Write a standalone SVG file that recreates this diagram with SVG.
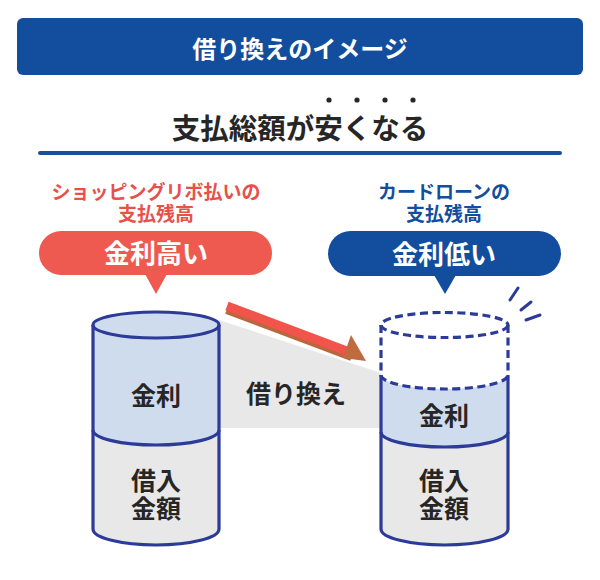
<svg xmlns="http://www.w3.org/2000/svg" width="600" height="580" viewBox="0 0 600 580">
<style>
text{font-family:"Noto Sans CJK JP","Noto Sans",sans-serif;font-weight:700;text-anchor:middle}
.dark{fill:#262626}
.cyl{fill:none;stroke:#2c3b98;stroke-width:3.2;stroke-linejoin:round}
.dash{fill:none;stroke:#2c3b98;stroke-width:3.2;stroke-dasharray:8 4.5}
.lb{fill:#cfdcee}
.gr{fill:#e8e8e8}
</style>
<rect width="600" height="580" fill="#ffffff"/>
<g id="header">
<rect x="17" y="18" width="566" height="57" rx="6" fill="#134e9e"/>
<text x="300" y="58" font-size="24" fill="#ffffff">借り換えのイメージ</text>
</g>
<g id="subtitle">
<text x="300" y="139" font-size="28.5" class="dark">支払総額が安くなる</text>
<g fill="#262626"><circle cx="329" cy="100" r="2.6"/><circle cx="357" cy="100" r="2.6"/><circle cx="385" cy="100" r="2.6"/><circle cx="413" cy="100" r="2.6"/></g>
<rect x="38" y="151" width="524" height="4" rx="2" fill="#1b4f99"/>
</g>
<g id="left-label">
<text font-size="19" fill="#e8504a"><tspan x="156" y="199">ショッピングリボ払いの</tspan><tspan x="156" y="221">支払残高</tspan></text>
<rect x="39" y="231" width="233" height="44" rx="22" fill="#ef5a50"/>
<polygon points="145,274 167,274 156,294" fill="#ef5a50"/>
<text x="156" y="263" font-size="26" fill="#ffffff">金利高い</text>
</g>
<g id="right-label">
<text font-size="19" fill="#134e9e"><tspan x="444" y="199">カードローンの</tspan><tspan x="444" y="221">支払残高</tspan></text>
<rect x="328" y="231" width="233" height="45" rx="22.5" fill="#134e9e"/>
<polygon points="434,275 456,275 445,294" fill="#134e9e"/>
<text x="444" y="264" font-size="26" fill="#ffffff">金利低い</text>
</g>
<g id="connectors">
<polygon points="219,320 381,373 381,428 219,428" class="gr"/>
<text x="296" y="403" font-size="25" class="dark">借り換え</text>
<line x1="227" y1="309" x2="352" y2="356" stroke="#b8683c" stroke-width="10"/>
<line x1="227" y1="306" x2="352" y2="353" stroke="#f0544a" stroke-width="9"/>
<polygon points="351,335 366,361 343,358" fill="#c06a40"/>
</g>
<g id="left-cylinder">
<path d="M93,325 L93,430 A63,15 0 0 0 219,430 L219,325 Z" class="lb"/>
<ellipse cx="156" cy="325" rx="63" ry="13" class="lb"/>
<path d="M93,430 A63,15 0 0 0 219,430 L219,529 A63,16 0 0 1 93,529 Z" class="gr"/>
<ellipse cx="156" cy="325" rx="63" ry="13" class="cyl"/>
<path d="M93,325 L93,529 A63,16 0 0 0 219,529 L219,325" class="cyl"/>
<path d="M93,430 A63,15 0 0 0 219,430" class="cyl"/>
<text x="156" y="405" font-size="25" class="dark">金利</text>
<text font-size="25" class="dark"><tspan x="156" y="490">借入</tspan><tspan x="156" y="518">金額</tspan></text>
</g>
<g id="right-cylinder">
<path d="M381,325 L381,375 A63.5,14 0 0 0 508,375 L508,325 Z" fill="#ffffff"/>
<path d="M381,375 A63.5,14 0 0 0 508,375 L508,432 A63.5,15 0 0 1 381,432 Z" class="lb"/>
<path d="M381,432 A63.5,15 0 0 0 508,432 L508,529 A63.5,16 0 0 1 381,529 Z" class="gr"/>
<ellipse cx="444.5" cy="325" rx="63.5" ry="12.5" class="dash"/>
<line x1="381" y1="325" x2="381" y2="375" class="dash"/>
<line x1="508" y1="325" x2="508" y2="375" class="dash"/>
<path d="M381,375 A63.5,14 0 0 0 508,375" class="dash"/>
<path d="M381,375 L381,529 A63.5,16 0 0 0 508,529 L508,375" class="cyl"/>
<path d="M381,432 A63.5,15 0 0 0 508,432" class="cyl"/>
<g stroke="#2c3b98" stroke-width="3" stroke-linecap="round">
<line x1="510" y1="300" x2="518" y2="288"/>
<line x1="521" y1="310" x2="531" y2="302"/>
<line x1="526" y1="320" x2="540" y2="315"/>
</g>
<text x="444" y="425" font-size="25" class="dark">金利</text>
<text font-size="25" class="dark"><tspan x="444" y="490">借入</tspan><tspan x="444" y="518">金額</tspan></text>
</g>
</svg>
